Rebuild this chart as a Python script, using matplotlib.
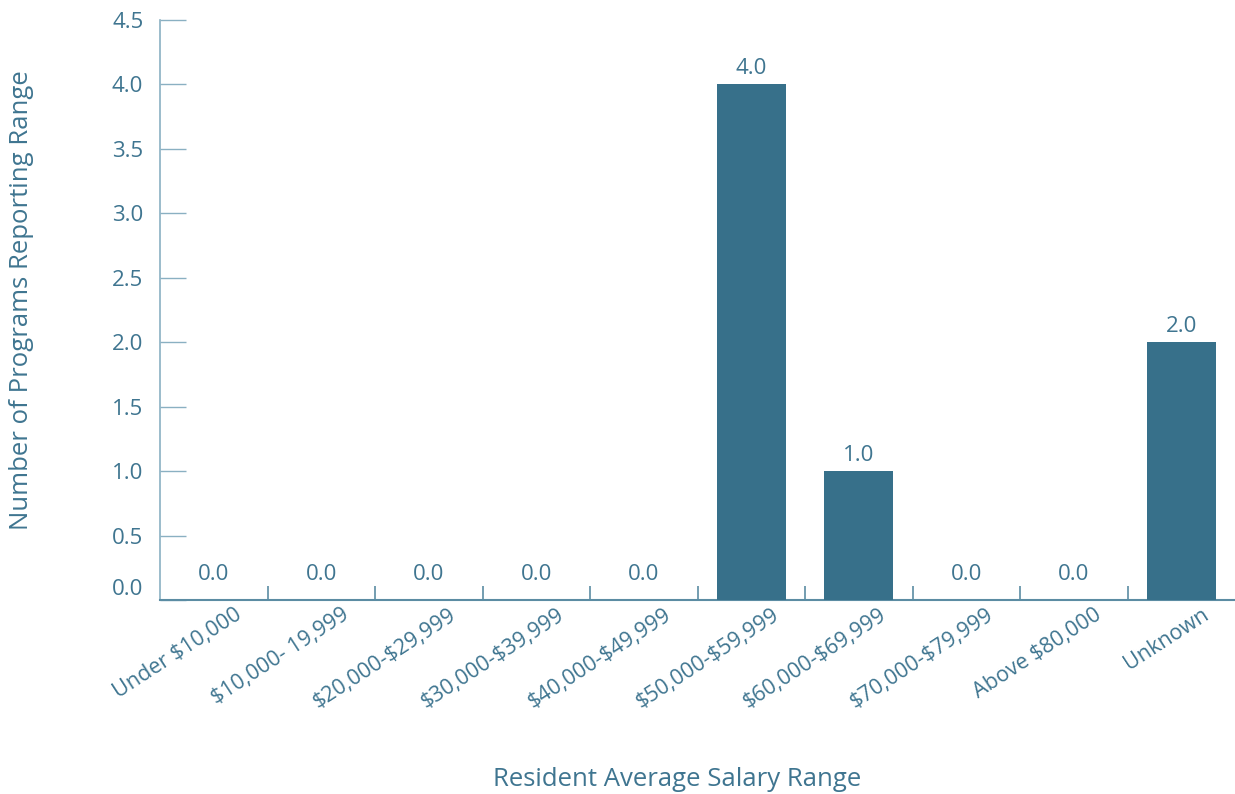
import matplotlib
matplotlib.use("Agg")
import matplotlib.pyplot as plt
import matplotlib.transforms as mtransforms
import numpy as np

# Chart data
categories = ["Under $10,000", "$10,000- 19,999", "$20,000-$29,999", "$30,000-$39,999",
              "$40,000-$49,999", "$50,000-$59,999", "$60,000-$69,999", "$70,000-$79,999",
              "Above $80,000", "Unknown"]
counts = [0.0, 0.0, 0.0, 0.0, 0.0, 4.0, 1.0, 0.0, 0.0, 2.0]
y_ticks = [0.0, 0.5, 1.0, 1.5, 2.0, 2.5, 3.0, 3.5, 4.0, 4.5]

# Colours
bar_color = "#37708a"
text_color = "#3f7590"
left_spine_color = "#8ab0c2"
bottom_spine_color = "#5b8ca3"

plt.rcParams['font.family'] = ['Open Sans', 'DejaVu Sans']
plt.rcParams['text.parse_math'] = False

fig = plt.figure(figsize=(12.35, 7.94), dpi=100)
ax = fig.add_axes([160 / 1235, 1 - 600 / 794, 1 - 160 / 1235, (600 - 20) / 794])

x = np.arange(len(categories))
ax.bar(x, counts, width=0.64, color=bar_color, zorder=3)

# Value labels above each bar
for xi, v in zip(x, counts):
    off = 4 if v > 0 else 11
    ax.annotate(f"{v:.1f}", (xi, v), xytext=(0, off), textcoords="offset points",
                ha="center", va="bottom", fontsize=16, color=text_color)

ax.set_xlim(-0.5, len(categories) - 0.5)
ax.set_ylim(0, 4.5)

# Y axis
ax.set_yticks(y_ticks)
ax.set_yticklabels([f"{t:.1f}" for t in y_ticks])
ax.tick_params(axis="y", direction="in", length=19, width=1, color=left_spine_color,
               labelcolor=text_color, labelsize=16, pad=12)
ax.get_yticklabels()[0].set_va("bottom")

# X axis: labels at centres, tick marks at category boundaries
ax.set_xticks(x)
ax.set_xticks(np.arange(0.5, len(categories) - 0.5, 1.0), minor=True)
ax.tick_params(axis="x", which="major", length=0, pad=3)
ax.tick_params(axis="x", which="minor", direction="in", length=10, width=1.2,
               color=bottom_spine_color)
ax.set_xticklabels(categories, rotation=33, ha="right", rotation_mode="anchor",
                   fontsize=15.5, color=text_color)
shift = mtransforms.ScaledTranslation(20 / 100, 0, fig.dpi_scale_trans)
for lbl in ax.get_xticklabels():
    lbl.set_transform(lbl.get_transform() + shift)

for side in ["top", "right"]:
    ax.spines[side].set_visible(False)
ax.spines["left"].set_color(left_spine_color)
ax.spines["left"].set_linewidth(1.2)
ax.spines["bottom"].set_color(bottom_spine_color)
ax.spines["bottom"].set_linewidth(1.5)

fig.text(22 / 1235, 1 - 300 / 794, "Number of Programs Reporting Range", rotation=90,
         ha="center", va="center", fontsize=18.5, color=text_color)
fig.text(677 / 1235, 1 - 780 / 794, "Resident Average Salary Range",
         ha="center", va="center", fontsize=18.5, color=text_color)

fig.savefig("out.png", dpi=100)
